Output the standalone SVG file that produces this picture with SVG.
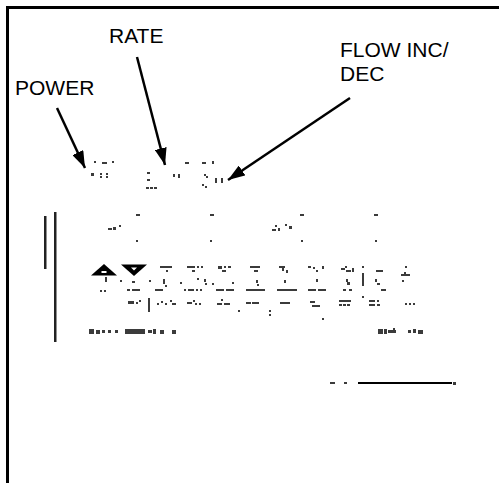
<svg xmlns="http://www.w3.org/2000/svg" width="499" height="483" viewBox="0 0 499 483">
<style>
.lbl{font-family:"Liberation Sans",Arial,sans-serif;font-size:21px;fill:#000}
.m{fill:#1a1a1a;opacity:.85}
.conn{stroke:#000;stroke-width:2.5;fill:none}
</style>
<defs>
<marker id="ah" markerUnits="userSpaceOnUse" markerWidth="18" markerHeight="12" refX="17" refY="6" orient="auto">
<path d="M0,0 L17,6 L0,12 Z" fill="#000"/>
</marker>
</defs>
<rect width="499" height="483" fill="#fff"/>
<g id="frame">
<path d="M7.5,483 L7.5,7.5 L499,7.5" stroke="#000" stroke-width="3" fill="none"/>
</g>
<g id="label-power"><text class="lbl" x="15" y="95">POWER</text></g>
<g id="label-rate"><text class="lbl" x="109" y="43">RATE</text></g>
<g id="label-flow"><text class="lbl" x="340" y="57">FLOW INC/</text><text class="lbl" x="340" y="81">DEC</text></g>
<g id="connectors">
<line class="conn" x1="57" y1="108" x2="85" y2="168" marker-end="url(#ah)"/>
<line class="conn" x1="137" y1="57" x2="165" y2="165" marker-end="url(#ah)"/>
<line class="conn" x1="350" y1="98" x2="228" y2="180" marker-end="url(#ah)"/>
</g>
<g id="panel">
<rect x="44" y="216" width="2.5" height="53" fill="#222"/>
<rect x="54" y="212" width="2.5" height="130" fill="#222"/>
<path d="M91,275.5 L104,264 L117,275.5 Z" fill="#000"/>
<rect x="101.5" y="271" width="5" height="2" fill="#fff"/>
<path d="M121,264.5 L147,264.5 L134,276 Z" fill="#000"/>
<path d="M131,267.5 L137,267.5 L134,270.5 Z" fill="#fff"/>
<g class="m">
<rect x="94" y="161" width="2" height="2"/><rect x="102" y="162" width="5" height="2"/><rect x="112" y="161" width="2" height="2"/>
<rect x="91" y="173" width="3" height="3"/><rect x="100" y="173" width="2" height="2"/><rect x="100" y="176" width="2" height="2"/><rect x="106" y="173" width="2" height="2"/><rect x="106" y="176" width="2" height="2"/>
<rect x="147" y="172" width="3" height="2"/><rect x="147" y="179" width="3" height="2"/><rect x="146" y="187" width="3" height="2"/><rect x="150" y="187" width="3" height="2"/><rect x="154" y="187" width="3" height="2"/>
<rect x="173" y="174" width="2" height="3"/><rect x="178" y="174" width="2" height="4"/>
<rect x="185" y="162" width="4" height="2"/><rect x="202" y="162" width="4" height="2"/><rect x="212" y="161" width="2" height="3"/>
<rect x="204" y="174" width="2" height="2"/><rect x="206" y="176" width="2" height="2"/><rect x="202" y="184" width="2" height="2"/><rect x="205" y="186" width="2" height="2"/>
<rect x="215" y="178" width="2" height="5"/><rect x="221" y="178" width="2" height="5"/>
<rect x="136" y="214" width="4" height="2"/><rect x="136" y="240" width="2" height="2"/><rect x="210" y="214" width="4" height="2"/><rect x="210" y="240" width="2" height="2"/><rect x="300" y="214" width="4" height="2"/><rect x="301" y="240" width="2" height="2"/><rect x="374" y="214" width="4" height="2"/><rect x="375" y="240" width="2" height="2"/>
<rect x="108" y="228" width="4" height="2"/><rect x="113" y="227" width="3" height="3"/><rect x="119" y="225" width="2" height="2"/>
<rect x="272" y="229" width="4" height="2"/><rect x="275" y="225" width="2" height="2"/><rect x="278" y="228" width="2" height="3"/><rect x="285" y="224" width="2" height="2"/><rect x="289" y="226" width="3" height="3"/>
<rect x="160" y="266" width="12" height="2"/><rect x="166" y="270" width="2" height="2"/>
<rect x="187" y="266" width="8" height="2"/><rect x="197" y="266" width="2" height="2"/><rect x="201" y="266" width="2" height="2"/><rect x="192" y="270" width="3" height="2"/>
<rect x="218" y="266" width="4" height="3"/><rect x="224" y="266" width="2" height="2"/><rect x="228" y="266" width="3" height="2"/><rect x="222" y="270" width="4" height="2"/>
<rect x="250" y="266" width="10" height="2"/><rect x="254" y="270" width="4" height="2"/>
<rect x="279" y="266" width="6" height="2"/><rect x="282" y="268" width="2" height="3"/><rect x="286" y="270" width="2" height="3"/>
<rect x="308" y="266" width="3" height="2"/><rect x="313" y="267" width="2" height="2"/><rect x="316" y="270" width="2" height="2"/><rect x="322" y="266" width="2" height="3"/>
<rect x="341" y="268" width="4" height="2"/><rect x="345" y="266" width="2" height="2"/><rect x="346" y="270" width="5" height="2"/><rect x="352" y="268" width="2" height="4"/>
<rect x="362" y="266" width="2" height="2"/><rect x="362" y="273" width="2" height="13"/>
<rect x="376" y="270" width="7" height="2"/>
<rect x="405" y="266" width="2" height="2"/><rect x="401" y="274" width="9" height="2"/><rect x="404" y="272" width="2" height="2"/>
<rect x="105" y="277" width="2" height="5"/><rect x="100" y="290" width="2" height="2"/><rect x="104" y="290" width="2" height="2"/>
<rect x="120" y="280" width="2" height="2"/><rect x="132" y="281" width="3" height="2"/><rect x="149" y="280" width="2" height="2"/>
<rect x="163" y="279" width="2" height="5"/><rect x="165" y="285" width="2" height="2"/><rect x="180" y="282" width="2" height="2"/>
<rect x="197" y="278" width="2" height="2"/><rect x="204" y="279" width="2" height="3"/><rect x="205" y="283" width="2" height="2"/><rect x="212" y="283" width="2" height="2"/>
<rect x="232" y="282" width="2" height="2"/><rect x="256" y="280" width="2" height="3"/><rect x="257" y="284" width="2" height="2"/><rect x="284" y="280" width="2" height="3"/>
<rect x="316" y="279" width="2" height="3"/><rect x="346" y="279" width="2" height="3"/><rect x="347" y="282" width="3" height="3"/><rect x="375" y="279" width="2" height="3"/><rect x="377" y="283" width="3" height="2"/><rect x="402" y="280" width="2" height="2"/>
<rect x="127" y="289" width="3" height="2"/><rect x="132" y="289" width="8" height="2"/><rect x="155" y="289" width="8" height="2"/>
<rect x="184" y="289" width="2" height="2"/><rect x="188" y="289" width="6" height="2"/><rect x="196" y="289" width="2" height="2"/><rect x="200" y="289" width="2" height="2"/>
<rect x="216" y="289" width="8" height="2"/><rect x="226" y="289" width="8" height="2"/><rect x="246" y="289" width="19" height="2"/><rect x="277" y="289" width="20" height="2"/>
<rect x="308" y="289" width="8" height="2"/><rect x="318" y="289" width="8" height="2"/><rect x="343" y="289" width="3" height="2"/><rect x="349" y="289" width="3" height="2"/><rect x="381" y="289" width="5" height="2"/>
<rect x="362" y="296" width="2" height="2"/><rect x="221" y="299" width="2" height="2"/>
<rect x="128" y="301" width="6" height="3"/><rect x="136" y="302" width="2" height="2"/><rect x="139" y="300" width="2" height="2"/>
<rect x="148" y="298" width="2" height="14"/>
<rect x="157" y="303" width="2" height="2"/><rect x="161" y="301" width="2" height="2"/><rect x="165" y="303" width="2" height="2"/><rect x="170" y="300" width="2" height="2"/><rect x="172" y="303" width="4" height="2"/>
<rect x="187" y="302" width="5" height="2"/><rect x="193" y="300" width="2" height="2"/><rect x="195" y="303" width="2" height="2"/><rect x="199" y="303" width="2" height="2"/>
<rect x="217" y="303" width="5" height="2"/><rect x="224" y="303" width="6" height="2"/><rect x="238" y="310" width="2" height="2"/>
<rect x="246" y="302" width="5" height="2"/><rect x="252" y="302" width="7" height="2"/><rect x="269" y="310" width="2" height="2"/><rect x="269" y="314" width="2" height="2"/>
<rect x="280" y="302" width="10" height="2"/><rect x="310" y="301" width="5" height="2"/><rect x="312" y="305" width="8" height="2"/><rect x="322" y="318" width="2" height="2"/>
<rect x="339" y="300" width="10" height="2"/><rect x="339" y="304" width="3" height="2"/><rect x="343" y="304" width="3" height="2"/><rect x="347" y="304" width="3" height="2"/><rect x="349" y="300" width="2" height="2"/>
<rect x="369" y="300" width="6" height="2"/><rect x="369" y="304" width="6" height="2"/><rect x="377" y="300" width="2" height="2"/><rect x="377" y="304" width="3" height="2"/>
<rect x="405" y="303" width="2" height="2"/><rect x="409" y="303" width="2" height="2"/><rect x="413" y="303" width="2" height="2"/>
<rect x="89" y="329" width="5" height="5"/><rect x="96" y="330" width="4" height="4"/><rect x="102" y="330" width="3" height="3"/><rect x="108" y="330" width="3" height="3"/><rect x="115" y="330" width="3" height="3"/>
<rect x="125" y="329" width="20" height="5"/><rect x="148" y="330" width="4" height="3"/><rect x="153" y="329" width="3" height="5"/><rect x="160" y="330" width="4" height="4"/><rect x="172" y="330" width="4" height="4"/>
<rect x="378" y="329" width="5" height="5"/><rect x="384" y="329" width="3" height="5"/><rect x="388" y="330" width="8" height="3"/><rect x="393" y="328" width="2" height="5"/><rect x="408" y="330" width="3" height="3"/><rect x="413" y="329" width="3" height="4"/><rect x="418" y="330" width="5" height="4"/>
<rect x="330" y="382" width="5" height="2"/><rect x="344" y="382" width="3" height="2"/><rect x="453" y="382" width="3" height="3"/>
</g>
<line x1="358" y1="383" x2="452" y2="383" stroke="#000" stroke-width="2"/>
</g>
</svg>
